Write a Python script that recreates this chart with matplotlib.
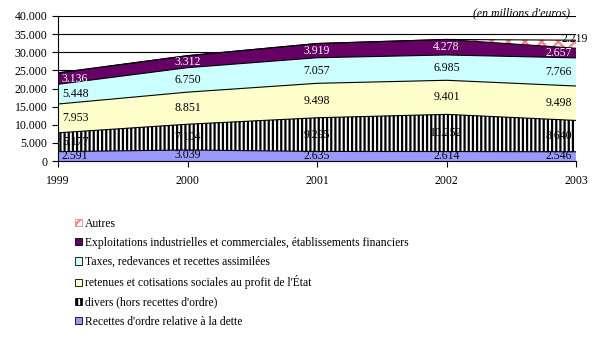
import numpy as np
import matplotlib
matplotlib.use('Agg')
from matplotlib import pyplot as plt
from matplotlib.patches import Patch
from matplotlib.ticker import FuncFormatter

plt.rcParams['font.family'] = ['Liberation Serif', 'DejaVu Serif']
plt.rcParams['hatch.linewidth'] = 1.6

years = [1999, 2000, 2001, 2002, 2003]
recettes_ordre = [2591, 3039, 2635, 2614, 2546]
divers = [5177, 7104, 9295, 10252, 8640]
retenues = [7953, 8851, 9498, 9401, 9498]
taxes = [5448, 6750, 7057, 6985, 7766]
exploitations = [3136, 3312, 3919, 4278, 2657]
autres = [0, 0, 0, 0, 2219]

series = [recettes_ordre, divers, retenues, taxes, exploitations, autres]
names = ["Recettes d'ordre relative à la dette",
         "divers (hors recettes d'ordre)",
         "retenues et cotisations sociales au profit de l'État",
         "Taxes, redevances et recettes assimilées",
         "Exploitations industrielles et commerciales, établissements financiers",
         "Autres"]
colors = ['#9999FF', 'white', '#FFFFCC', '#CCFFFF', '#660066', 'white']
hatches = [None, '||||', None, None, None, 'xx']
hatch_col = [None, 'black', None, None, None, '#FF8080']
txt_col = ['black', 'black', 'black', 'black', 'white', 'black']

def fmt(v):
    return f"{int(v):,}".replace(',', '.')

fig = plt.figure(figsize=(5.94, 3.48), dpi=100)
ax = fig.add_axes([58/594, 1 - 161/348, (576-58)/594, (161-16)/348])

x = np.array(years)
bottom = np.zeros(len(years))
for k, vals in enumerate(series):
    v = np.array(vals, dtype=float)
    top = bottom + v
    ax.fill_between(x, bottom, top, facecolor=colors[k], edgecolor='none', zorder=2)
    if hatches[k]:
        ax.fill_between(x, bottom, top, facecolor='none', hatch=hatches[k],
                        edgecolor=hatch_col[k], linewidth=0, zorder=2.5)
    ax.plot(x, top, color='black', lw=0.8, zorder=3)
    for i in range(len(years)):
        if v[i] <= 0:
            continue
        if k == 5:
            ax.text(x[i] + 0.09, top[i] + 300, fmt(v[i]), ha='right', va='center',
                    fontsize=8.5, color=txt_col[k], zorder=4, clip_on=False)
            continue
        ha = 'left' if i == 0 else ('right' if i == len(years) - 1 else 'center')
        dx = 0.03 if i == 0 else (-0.03 if i == len(years) - 1 else 0)
        ax.text(x[i] + dx, bottom[i] + v[i] / 2, fmt(v[i]),
                ha=ha, va='center', fontsize=8.5, color=txt_col[k], zorder=4)
    bottom = top

ax.set_xlim(1999, 2003)
ax.set_ylim(0, 40000)
ax.set_yticks(range(0, 40001, 5000))
ax.yaxis.set_major_formatter(FuncFormatter(lambda v, p: fmt(v)))
ax.set_xticks(years)
ax.grid(axis='y', color='black', lw=0.8, zorder=1)
ax.spines['top'].set_visible(False)
ax.spines['right'].set_visible(False)
ax.tick_params(labelsize=8.5, length=4, width=0.8)
ax.tick_params(axis='x', pad=6)

fig.text(570/594, 1 - 13/348, "(en millions d'euros)", ha='right', va='center',
         fontsize=8.5, style='italic')

handles = []
for k in range(len(series)):
    ec = hatch_col[k] if k == 5 else 'black'
    handles.append(Patch(facecolor=colors[k], edgecolor=ec, hatch=hatches[k], lw=0.6))
fig.legend(handles[::-1], names[::-1], loc='upper left',
           bbox_to_anchor=(70/594, 1 - 213/348), borderaxespad=0, frameon=False,
           fontsize=8.4, handlelength=0.6, handleheight=0.6, handletextpad=0.3,
           labelspacing=0.62)

fig.savefig('out.png', dpi=100)
